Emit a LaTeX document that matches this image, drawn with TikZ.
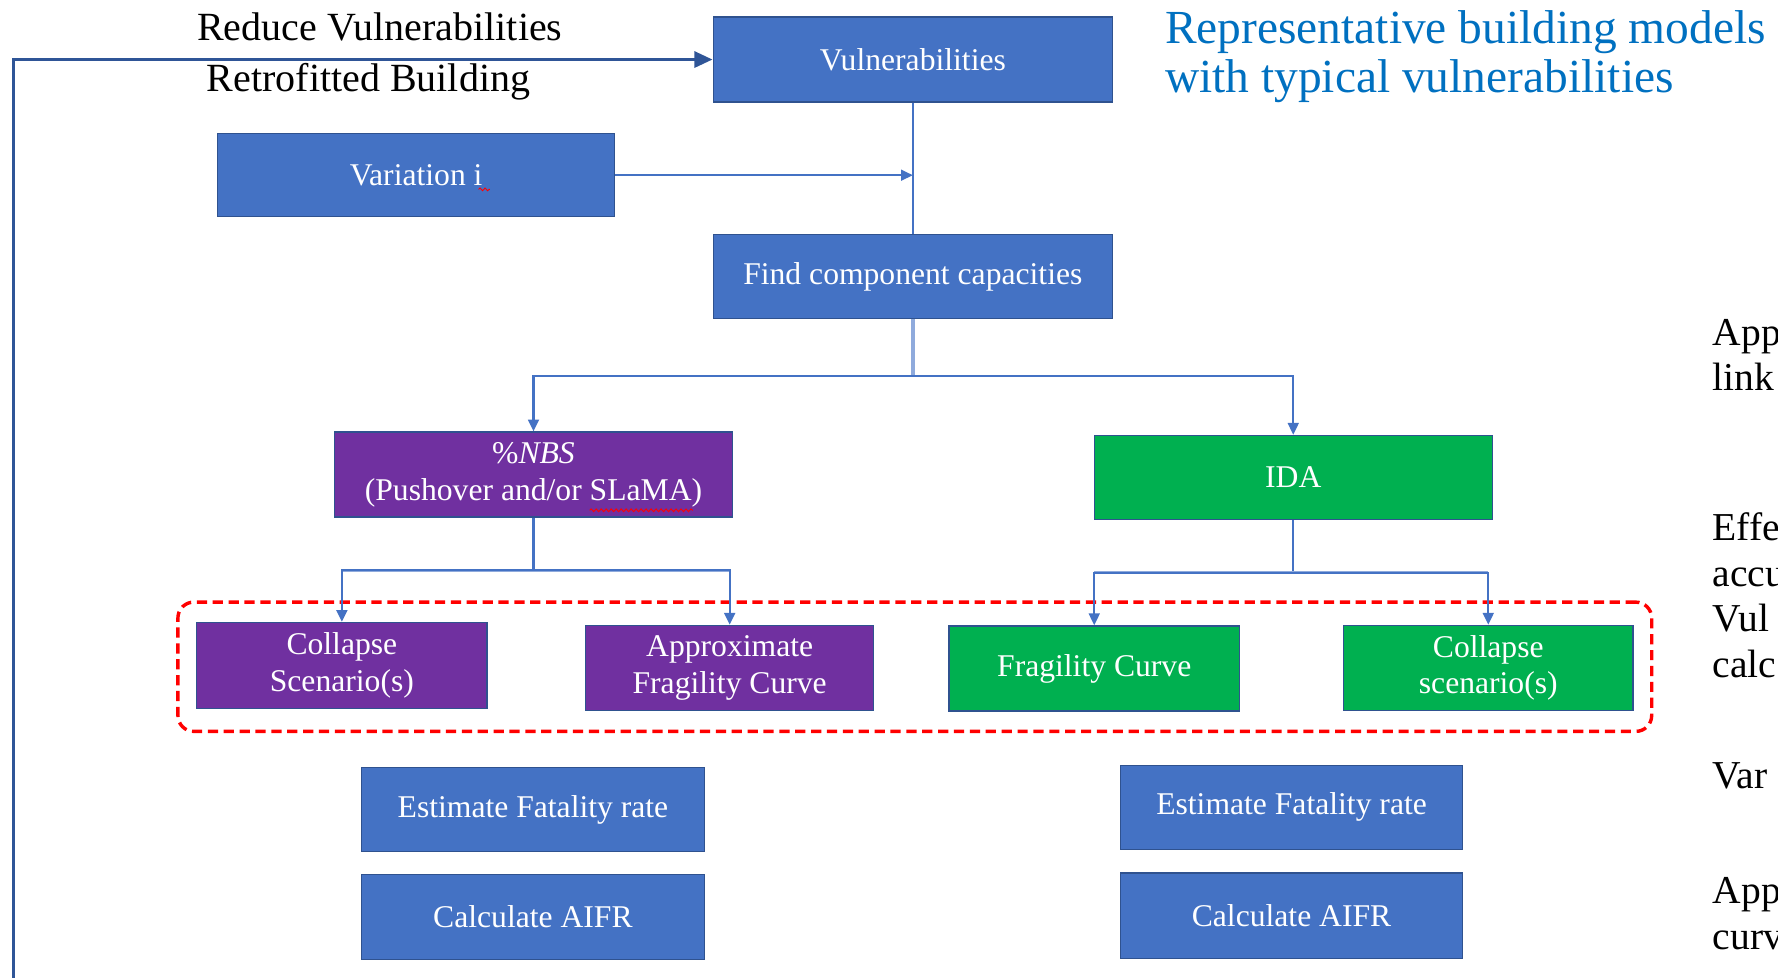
\documentclass[tikz,border=0pt]{standalone}
\usepackage{fontspec}
\setmainfont{Liberation Serif}
\usetikzlibrary{arrows.meta,fit,decorations.pathmorphing}
\definecolor{boxblue}{HTML}{4472C4}
\definecolor{boxedge}{HTML}{2F528F}
\definecolor{purp}{HTML}{7030A0}
\definecolor{grn}{HTML}{00B050}
\definecolor{fbblue}{HTML}{2F5597}
\definecolor{txtblue}{HTML}{0070C0}
\definecolor{lightconn}{HTML}{8FAADC}
\begin{document}
\begin{tikzpicture}[x=0.5bp,y=-0.5bp,
  box/.style={draw=boxedge,line width=0.6bp,fill=boxblue,text=white,
    font=\fontsize{14}{16.2}\selectfont,align=center,inner sep=0pt,
    minimum width=176bp,minimum height=37.5bp},
  pbox/.style={box,fill=purp},
  gbox/.style={box,fill=grn},
  conn/.style={draw=boxblue,line width=0.9bp},
  lconn/.style={draw=lightconn,line width=1.6bp},
  arr/.style={conn,-{Triangle[length=5.2bp,width=4.8bp]}},
  fb/.style={draw=fbblue,line width=1.5bp,-{Triangle[length=8bp,width=7bp]}},
  lbl/.style={font=\fontsize{17.7}{20.5}\selectfont,inner sep=0pt},
  side/.style={font=\fontsize{17.5}{20.3}\selectfont,inner sep=0pt,anchor=west,align=left},
  grp/.style={draw=red,line width=1.5bp,dash pattern=on 4.5bp off 2.5bp,rounded corners=7bp,inner sep=0pt},
  squig/.style={draw=red,line width=0.4bp,decorate,decoration={snake,amplitude=0.6bp,segment length=2.2bp}}
]
\useasboundingbox (0,0) rectangle (1568,862);
\clip (0,0) rectangle (1568,862);

% boxes
\node[box] (vul) at (805,52.5) {Vulnerabilities};
\node[box,minimum width=175bp,minimum height=36.5bp] (var) at (367,154.5) {Variation i};
\node[box,minimum height=37bp] (find) at (805,244) {Find component capacities};
\node[pbox,minimum width=175.5bp,minimum height=37.5bp] (nbs) at (470.5,418.5) {\%\textit{NBS}\\(Pushover and/or SLaMA)};
\node[gbox,minimum width=175.5bp,minimum height=37bp] (ida) at (1140.5,421) {IDA};
\node[pbox,minimum width=128bp,minimum height=38bp] (cs1) at (301.5,587) {Collapse\\Scenario(s)};
\node[pbox,minimum width=127bp,minimum height=37.5bp] (afc) at (643.5,589) {Approximate\\Fragility Curve};
\node[gbox,minimum width=128bp,minimum height=37.5bp] (frc) at (965,589.5) {Fragility Curve};
\node[gbox,minimum width=127.5bp,minimum height=37.5bp] (cs2) at (1312.5,589) {Collapse\\scenario(s)};
\node[box,minimum width=151bp,minimum height=37bp] (ef1) at (470,714) {Estimate Fatality rate};
\node[box,minimum width=151bp,minimum height=37.5bp] (ai1) at (470,808.5) {Calculate AIFR};
\node[box,minimum width=151bp,minimum height=37bp] (ef2) at (1139,712) {Estimate Fatality rate};
\node[box,minimum width=151bp,minimum height=37.5bp] (ai2) at (1139,807.5) {Calculate AIFR};

% red dashed group
\node[grp,fit=(cs1)(afc)(frc)(cs2),inner xsep=8bp,inner ysep=8.7bp] (group) {};

% spell-check squiggles
\draw[squig] (422,167) -- (432,167);
\draw[squig] (520,450) -- (611,450);

% connectors
\coordinate (vj) at (vul |- var);
\draw[conn] (vul) -- (find);
\draw[arr] (var) -- (vj);
\coordinate (s1) at (805,332);
\draw[lconn] (find) -- (s1);
\draw[arr] (s1) -| (nbs);
\draw[arr] (s1) -| (ida);
\coordinate (s2) at (470.5,503);
\draw[conn] (nbs) -- (s2);
\draw[lconn] (cs1 |- s2) -- (afc |- s2);
\draw[arr] (s2) -| (cs1);
\draw[arr] (s2) -| (afc);
\coordinate (s3) at (1140.5,505);
\draw[conn] (ida) -- (s3);
\draw[lconn] (frc |- s3) -- (cs2 |- s3);
\draw[arr] (s3) -| (frc);
\draw[arr] (s3) -| (cs2);

% feedback loop
\coordinate (fbstart) at (12,870);
\draw[fb] (fbstart) |- (vul);
\node[lbl] (reduce) at (335,24) {Reduce Vulnerabilities};
\node[lbl] (retro) at (325,72) {Retrofitted Building};

% blue heading
\node[font=\fontsize{21}{22}\selectfont,text=txtblue,inner sep=0pt,anchor=west,align=left] (rep) at (1027,50) {Representative building models\\with typical vulnerabilities};

% right-side cut-off text (cut off at the edge, as in the reference)
\node[side] (t1) at (1510,313) {App\\link};
\node[side] (t2) at (1510,525) {Effe\\accu\\Vul\\calc};
\node[side] (t3) at (1510,684) {Var};
\node[side] (t4) at (1510,806) {App\\curv};
\end{tikzpicture}
\end{document}
